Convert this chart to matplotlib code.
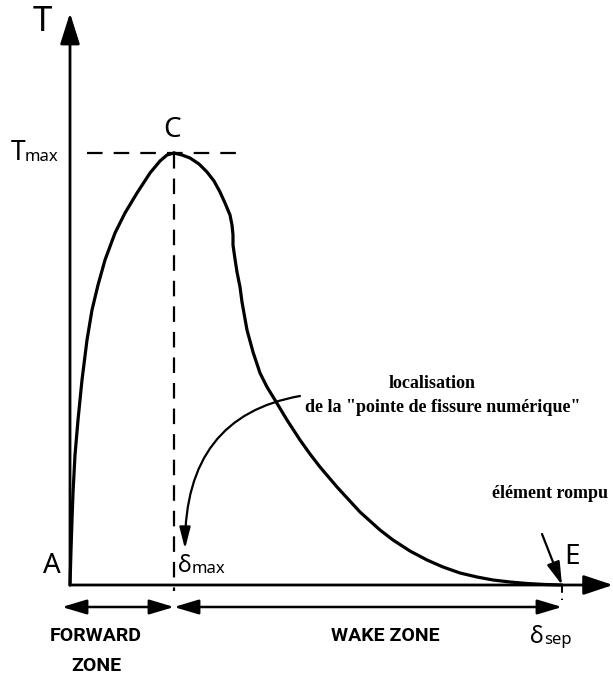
import matplotlib
matplotlib.use("Agg")
import matplotlib.pyplot as plt
from matplotlib.patches import FancyArrowPatch

# ---- data (units: opening delta, traction T; origin at A) ----
delta_max = 104
delta_sep = 492
T_max = 432

rise_delta = [0, 1, 2, 3, 5, 8, 12, 17, 22, 28, 35, 45, 55, 67, 80, 90, 97, 104]
rise_T = [0, 35, 65, 92, 130, 165, 205, 245, 275, 300, 325, 352, 372, 392, 412, 424, 430, 432]

fall_delta = [104, 112, 120, 129, 137, 144, 150, 155, 160, 162, 163, 163, 165, 167, 170, 172, 177, 183, 190, 197, 205, 217,
              230, 240, 250, 267, 290, 310, 323, 340, 357, 373, 390, 407, 423, 440, 457, 475, 492]
fall_T = [432, 430, 427, 421, 413, 404, 393, 382, 370, 360, 350, 340, 326, 313, 298, 283, 255, 233, 212, 198, 185, 165,
          145, 131, 118, 98, 73, 55, 45, 34, 25, 18, 12, 8, 5, 3, 1.5, 0.5, 0]

zone_labels = ["FORWARD\nZONE", "WAKE ZONE"]

W, H = 613, 686
fig = plt.figure(figsize=(W / 100, H / 100), dpi=100)
ax = fig.add_axes([0, 0, 1, 1])
x0, y0 = 70, 585
ax.set_xlim(-x0, W - x0)
ax.set_ylim(-(H - y0), y0)
ax.axis("off")

cond = ["Noto Sans", "DejaVu Sans"]
bold_cond = ["Roboto", "DejaVu Sans"]
serif = ["Liberation Serif", "DejaVu Serif"]
st = "condensed"

# axes with arrows
ax.annotate("", xy=(0, 572), xytext=(0, 0),
            arrowprops=dict(arrowstyle="-|>,head_width=0.6,head_length=1.9", lw=2.0, color="black",
                            shrinkA=0, shrinkB=0))
ax.annotate("", xy=(543, 0), xytext=(0, 0),
            arrowprops=dict(arrowstyle="-|>,head_width=0.6,head_length=1.8", lw=2.0, color="black",
                            shrinkA=0, shrinkB=0))

# dashed guide lines
ax.plot([17, 175], [T_max, T_max], color="black", lw=1.6, dashes=(7, 5))
ax.plot([delta_max, delta_max], [T_max, -6], color="black", lw=1.6, dashes=(7, 4.5))
ax.plot([delta_sep, delta_sep], [0, -15], color="black", lw=1.4, dashes=(4, 3))

# traction-separation curve
ax.plot(rise_delta, rise_T, color="black", lw=2.3, solid_joinstyle="round", solid_capstyle="round")
ax.plot(fall_delta, fall_T, color="black", lw=2.3, solid_joinstyle="round", solid_capstyle="round")

# zone arrows
ya = -22
ax.annotate("", xy=(-8, ya), xytext=(delta_max, ya),
            arrowprops=dict(arrowstyle="<|-|>,head_width=0.45,head_length=1.5", lw=1.8, color="black",
                            shrinkA=0, shrinkB=0))
ax.annotate("", xy=(delta_max, ya), xytext=(delta_sep, ya),
            arrowprops=dict(arrowstyle="<|-|>,head_width=0.45,head_length=1.5", lw=1.8, color="black",
                            shrinkA=0, shrinkB=0))

# curved arrow from annotation to delta_max
arc = FancyArrowPatch((230, 189), (115, 36), connectionstyle="angle3,angleA=10,angleB=90",
                      arrowstyle="-|>,head_width=3.3,head_length=13", lw=1.6, color="black",
                      mutation_scale=1, shrinkA=0, shrinkB=0)
ax.add_patch(arc)

# arrow to E
ax.annotate("", xy=(delta_sep, 0), xytext=(472, 51),
            arrowprops=dict(arrowstyle="-|>,head_width=0.4,head_length=1.4", lw=1.6, color="black",
                            shrinkA=0, shrinkB=0))

# labels
ax.text(-28, 563, "T", fontsize=25, family=cond, fontstretch=st, ha="center", va="center")
ax.text(-45, T_max, "T", fontsize=19, family=cond, fontstretch=st, ha="right", va="center")
ax.text(-45, T_max - 4, "max", fontsize=12, family=cond, fontstretch=st, ha="left", va="center")
ax.text(delta_max - 2, 455, "C", fontsize=20, family=cond, fontstretch=st, ha="center", va="center")
ax.text(-18, 19, "A", fontsize=20, family=cond, fontstretch=st, ha="center", va="center")
ax.text(502, 28, "E", fontsize=20, family=cond, fontstretch=st, ha="center", va="center")
ax.text(122, 19, "δ", fontsize=17, family=cond, fontstretch=st, ha="right", va="center")
ax.text(122, 16, "max", fontsize=12, family=cond, fontstretch=st, ha="left", va="center")
ax.text(474, -52, "δ", fontsize=17, family=cond, fontstretch=st, ha="right", va="center")
ax.text(474, -55, "sep", fontsize=12, family=cond, fontstretch=st, ha="left", va="center")

ax.text(26, -66, zone_labels[0], fontsize=14, family=bold_cond, weight="bold",
        ha="center", va="center", linespacing=1.8)
ax.text(315, -51, zone_labels[1], fontsize=14, family=bold_cond, weight="bold",
        ha="center", va="center")

ax.text(362, 201, "localisation", fontsize=13, family=serif, weight="bold", ha="center", va="center")
ax.text(373, 178, 'de la "pointe de fissure numérique"', fontsize=13, family=serif, weight="bold",
        ha="center", va="center")
ax.text(480, 91, "élément rompu", fontsize=13, family=serif, weight="bold", ha="center", va="center")

fig.savefig("out.png", dpi=100)
